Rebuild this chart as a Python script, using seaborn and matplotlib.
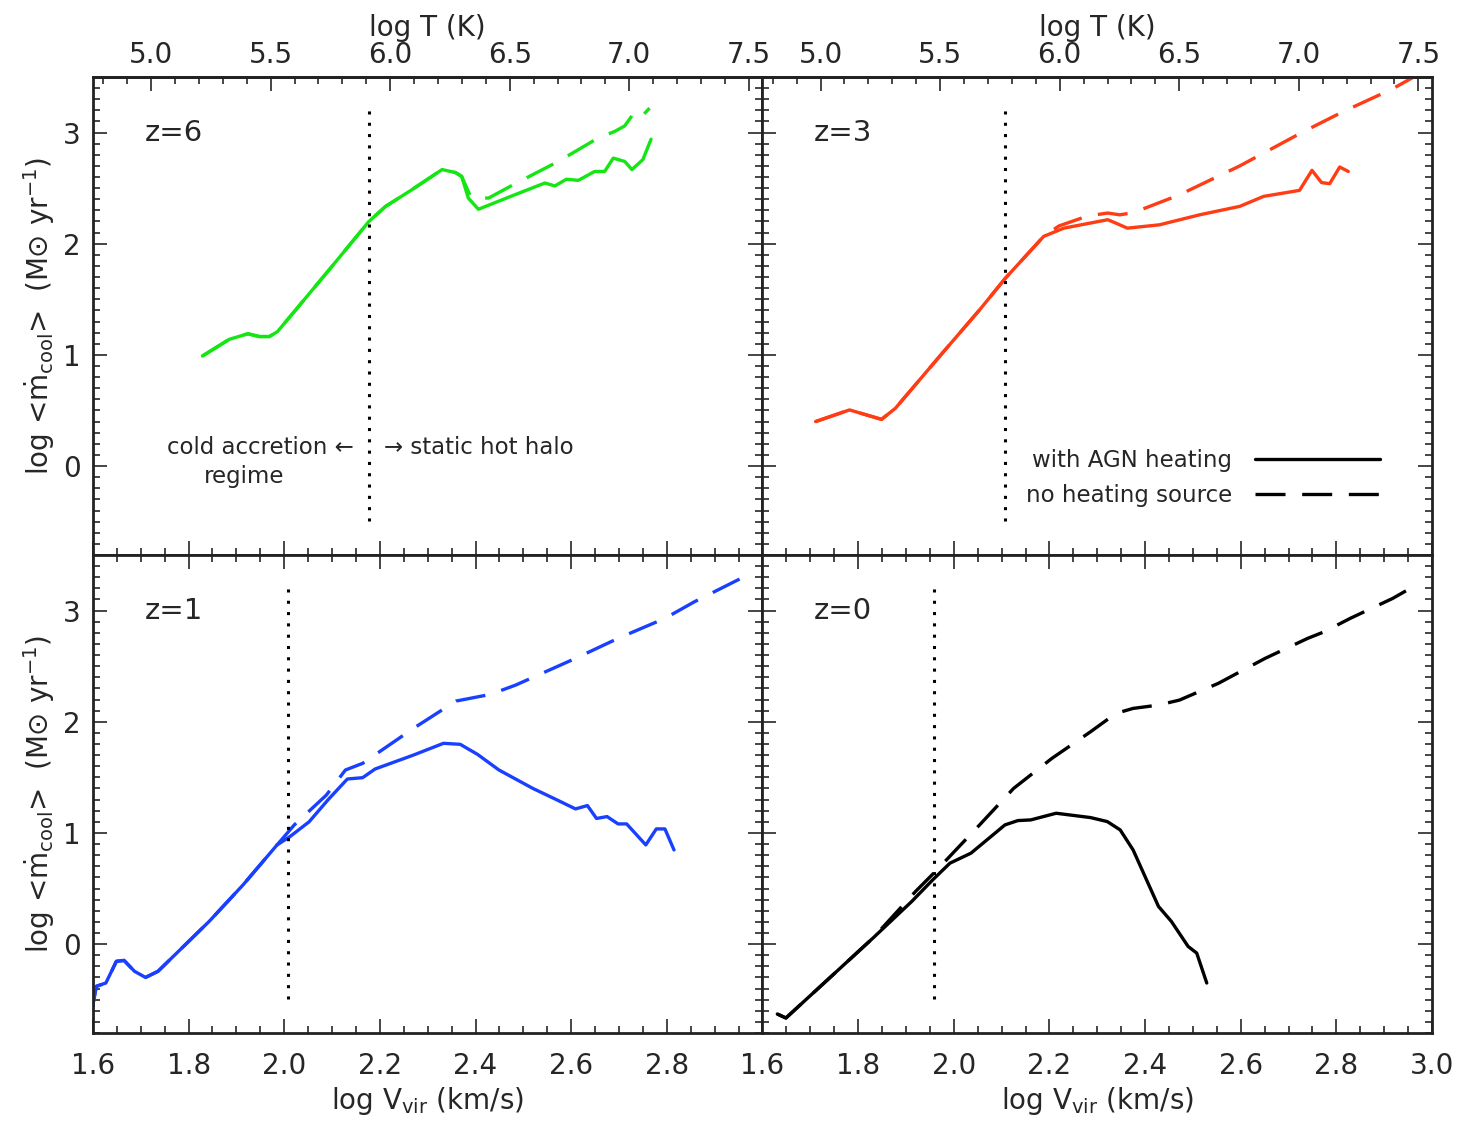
import numpy as np
import matplotlib
matplotlib.use('Agg')
import matplotlib.pyplot as plt
from matplotlib.lines import Line2D
from matplotlib.ticker import MultipleLocator, FormatStrFormatter
import seaborn as sns

# values: x = log Vvir (km/s), y = log <mdot_cool> (Msun/yr)
z6_agn_v = [1.829, 1.885, 1.924, 1.948, 1.969, 1.986, 2.024, 2.094, 2.177, 2.212, 2.267,
            2.330, 2.358, 2.371, 2.385, 2.406, 2.476, 2.545, 2.566, 2.590, 2.615, 2.649,
            2.670, 2.688, 2.712, 2.727, 2.750, 2.767]
z6_agn_m = [0.99, 1.14, 1.19, 1.165, 1.165, 1.21, 1.405, 1.766, 2.20, 2.336, 2.486,
            2.667, 2.64, 2.606, 2.41, 2.31, 2.43, 2.546, 2.52, 2.58, 2.57, 2.65,
            2.65, 2.77, 2.74, 2.667, 2.757, 2.94]
z6_noh_v = [1.829, 1.885, 1.924, 1.948, 1.969, 1.986, 2.024, 2.094, 2.177, 2.212, 2.267,
            2.330, 2.358, 2.371, 2.390, 2.427, 2.483, 2.573, 2.656, 2.691, 2.712, 2.727,
            2.740, 2.764]
z6_noh_m = [0.99, 1.14, 1.19, 1.165, 1.165, 1.21, 1.405, 1.766, 2.20, 2.336, 2.486,
            2.667, 2.64, 2.606, 2.42, 2.41, 2.54, 2.74, 2.95, 3.01, 3.06, 3.15,
            3.11, 3.22]

z3_agn_v = [1.711, 1.782, 1.849, 1.878, 1.970, 2.054, 2.108, 2.188, 2.230, 2.322, 2.338,
            2.363, 2.430, 2.514, 2.598, 2.648, 2.723, 2.749, 2.769, 2.786, 2.807, 2.825]
z3_agn_m = [0.40, 0.505, 0.42, 0.52, 0.985, 1.405, 1.69, 2.066, 2.14, 2.216, 2.187,
            2.14, 2.17, 2.26, 2.336, 2.426, 2.48, 2.66, 2.55, 2.54, 2.69, 2.65]
z3_noh_v = [1.711, 1.782, 1.849, 1.878, 1.970, 2.054, 2.108, 2.188, 2.220, 2.280, 2.322,
            2.347, 2.376, 2.472, 2.598, 2.732, 2.815, 2.916, 2.966]
z3_noh_m = [0.40, 0.505, 0.42, 0.52, 0.985, 1.405, 1.69, 2.066, 2.16, 2.25, 2.276,
            2.26, 2.28, 2.44, 2.70, 3.01, 3.19, 3.39, 3.51]

z1_agn_v = [1.598, 1.607, 1.627, 1.649, 1.665, 1.687, 1.710, 1.736, 1.843, 1.914, 1.985,
            2.012, 2.052, 2.092, 2.132, 2.164, 2.190, 2.270, 2.333, 2.368, 2.404, 2.449,
            2.520, 2.564, 2.609, 2.634, 2.653, 2.675, 2.698, 2.716, 2.756, 2.778, 2.796, 2.815]
z1_agn_m = [-0.59, -0.38, -0.35, -0.155, -0.147, -0.245, -0.30, -0.245, 0.204, 0.533, 0.892,
            0.967, 1.10, 1.30, 1.485, 1.497, 1.575, 1.70, 1.806, 1.797, 1.707, 1.566,
            1.40, 1.31, 1.216, 1.246, 1.13, 1.147, 1.081, 1.081, 0.892, 1.036, 1.036, 0.847]
z1_noh_v = [1.598, 1.607, 1.627, 1.649, 1.665, 1.687, 1.710, 1.736, 1.843, 1.914, 1.985,
            2.021, 2.088, 2.128, 2.164, 2.270, 2.359, 2.431, 2.484, 2.609, 2.698, 2.796,
            2.858, 2.969]
z1_noh_m = [-0.59, -0.38, -0.35, -0.155, -0.147, -0.245, -0.30, -0.245, 0.204, 0.533, 0.892,
            1.072, 1.34, 1.566, 1.626, 1.94, 2.186, 2.246, 2.33, 2.57, 2.75, 2.93,
            3.08, 3.32]

z0_agn_v = [1.631, 1.649, 1.725, 1.831, 1.912, 1.956, 1.992, 2.036, 2.107, 2.134, 2.161,
            2.214, 2.286, 2.321, 2.348, 2.375, 2.428, 2.455, 2.490, 2.508, 2.529]
z0_agn_m = [-0.629, -0.665, -0.365, 0.054, 0.383, 0.578, 0.728, 0.818, 1.072, 1.111, 1.117,
            1.177, 1.138, 1.102, 1.027, 0.847, 0.339, 0.204, -0.021, -0.081, -0.35]
z0_noh_v = [1.631, 1.649, 1.725, 1.831, 1.920, 1.965, 2.054, 2.125, 2.205, 2.286, 2.339,
            2.375, 2.428, 2.472, 2.553, 2.651, 2.740, 2.775, 2.829, 2.918, 2.971]
z0_noh_m = [-0.629, -0.665, -0.365, 0.054, 0.473, 0.668, 1.072, 1.40, 1.67, 1.91, 2.075,
            2.12, 2.15, 2.195, 2.345, 2.57, 2.75, 2.81, 2.93, 3.11, 3.24]

redshifts = ['6', '3', '1', '0']
colors = ['#14e614', '#ff3c14', '#1a40ff', '#000000']
agn_v = [z6_agn_v, z3_agn_v, z1_agn_v, z0_agn_v]
agn_m = [z6_agn_m, z3_agn_m, z1_agn_m, z0_agn_m]
noh_v = [z6_noh_v, z3_noh_v, z1_noh_v, z0_noh_v]
noh_m = [z6_noh_m, z3_noh_m, z1_noh_m, z0_noh_m]
# transition velocity (dotted line) in each panel
v_trans = [2.177, 2.108, 2.008, 1.958]
dot_lo, dot_hi = -0.49, 3.22

sns.set_style('ticks')
plt.rcParams['font.family'] = ['DejaVu Sans']
plt.rcParams['mathtext.fontset'] = 'dejavusans'

fig, axes = plt.subplots(2, 2, figsize=(14.59, 11.22), dpi=100)
fig.subplots_adjust(left=0.0637, right=0.9815, top=0.9314, bottom=0.0793, wspace=0, hspace=0)

dash = (0, (9, 5))
fs_tick = 20
fs_lab = 20
fs_note = 16.5


def v2t(v):
    return 2.0 * v + 1.557


def t2v(t):
    return (t - 1.557) / 2.0


for i, ax in enumerate(axes.flat):
    row, col = divmod(i, 2)
    sns.lineplot(x=noh_v[i], y=noh_m[i], ax=ax, color=colors[i], lw=2.4,
                 linestyle=dash, sort=False, estimator=None)
    sns.lineplot(x=agn_v[i], y=agn_m[i], ax=ax, color=colors[i], lw=2.4,
                 sort=False, estimator=None)
    ax.vlines(v_trans[i], dot_lo, dot_hi, color='black', lw=2.2, linestyle=(0, (1, 2.7)))

    ax.set_xlim(1.6, 3.0)
    ax.set_ylim(-0.8, 3.5)
    if col == 0:
        ax.set_xticks(np.arange(1.6, 2.81, 0.2))
    else:
        ax.set_xticks(np.arange(1.6, 3.01, 0.2))
    ax.xaxis.set_minor_locator(MultipleLocator(0.05))
    ax.xaxis.set_major_formatter(FormatStrFormatter('%.1f'))
    ax.set_yticks([0, 1, 2, 3])
    ax.yaxis.set_minor_locator(MultipleLocator(0.1))

    ax.tick_params(which='both', direction='in', left=True, right=True,
                   bottom=True, top=(row == 1), labelsize=fs_tick, width=1.2,
                   labelleft=(col == 0), labelbottom=(row == 1))
    ax.tick_params(axis='x', pad=14)
    ax.tick_params(axis='y', pad=9)
    ax.tick_params(which='major', length=10)
    ax.tick_params(which='minor', length=5)
    for sp in ax.spines.values():
        sp.set_linewidth(2)
        sp.set_color('#222222')

    ax.set_xlabel('log V$_{\\rm vir}$ (km/s)' if row == 1 else '', fontsize=fs_lab, labelpad=3)
    ax.set_ylabel('log <$\\dot{\\rm m}_{\\rm cool}$>  (M$\\odot$ yr$^{-1}$)' if col == 0 else '',
                  fontsize=fs_lab)

    if row == 0:
        sec = ax.secondary_xaxis('top', functions=(v2t, t2v))
        sec.set_xticks(np.arange(5.0, 7.51, 0.5))
        sec.xaxis.set_minor_locator(MultipleLocator(0.1))
        sec.xaxis.set_major_formatter(FormatStrFormatter('%.1f'))
        sec.tick_params(which='both', direction='in', labelsize=fs_tick, width=1.2, pad=6)
        sec.tick_params(which='major', length=10)
        sec.tick_params(which='minor', length=5)
        sec.spines['top'].set_linewidth(2)
        sec.set_xlabel('log T (K)', fontsize=fs_lab, labelpad=3)

    ax.text(1.708, 3.0, 'z=' + redshifts[i], fontsize=21, ha='left', va='center')

# annotation of the two regimes at z=6
axes[0, 0].text(2.146, 0.171, 'cold accretion \u2190', fontsize=fs_note, ha='right', va='center')
axes[0, 0].text(1.917, -0.09, 'regime', fontsize=fs_note, ha='center', va='center')
axes[0, 0].text(2.208, 0.171, '\u2192 static hot halo', fontsize=fs_note, ha='left', va='center')

handles = [Line2D([], [], color='black', lw=2.4),
           Line2D([], [], color='black', lw=2.4, linestyle=dash)]
axes[0, 1].legend(handles, ['with AGN heating', 'no heating source'], loc='lower right',
                  bbox_to_anchor=(0.922, 0.1), frameon=False, markerfirst=False,
                  fontsize=fs_note, handlelength=5.45, handletextpad=1.0, labelspacing=0.53,
                  borderpad=0, borderaxespad=0)

fig.savefig('out.png', dpi=100)
